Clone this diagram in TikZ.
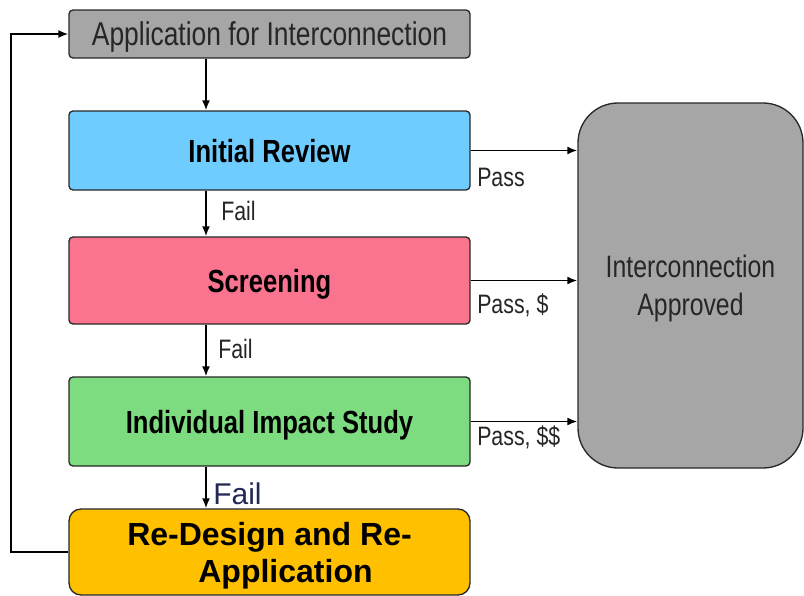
\documentclass[tikz,border=0pt]{standalone}
\usepackage{fontspec}
\setmainfont{Liberation Sans}
\newfontfamily\nar[FakeStretch=0.8]{Liberation Sans}
\usetikzlibrary{arrows.meta}
\definecolor{boxgray}{RGB}{166,166,166}
\definecolor{txtgray}{RGB}{38,38,38}
\definecolor{revblue}{RGB}{110,204,255}
\definecolor{scrpink}{RGB}{250,115,143}
\definecolor{impgreen}{RGB}{125,220,128}
\definecolor{redoamber}{RGB}{255,192,0}
\definecolor{failnavy}{RGB}{35,40,85}
\definecolor{edge}{RGB}{40,40,40}
\begin{document}
\begin{tikzpicture}[x=0.75pt,y=-0.75pt,
  stage/.style={draw=edge,line width=1pt,rounded corners=3pt,inner sep=0pt,
    minimum width=300.75pt,align=center,text depth=0pt},
  title/.style={font=\nar\bfseries\fontsize{24}{28}\selectfont},
  arr/.style={line width=1.3pt,-{Latex[length=7.5pt,width=6pt]}},
  lbl/.style={font=\nar\fontsize{20}{24}\selectfont,inner sep=0pt,anchor=base west,text=txtgray}]
\useasboundingbox (0,0) rectangle (804,596);

% process stages
\node[stage,fill=boxgray,minimum height=36pt,text=txtgray,
  font=\nar\fontsize{24.75}{29}\selectfont] (app) at (269.5,34) {Application for Interconnection};
\node[stage,fill=revblue,minimum height=59.25pt,title] (init) at (269.5,150.5) {Initial Review};
\node[stage,fill=scrpink,minimum height=65.25pt,title] (scr) at (269.5,280.5) {Screening};
\node[stage,fill=impgreen,minimum height=66.75pt,title] (iis) at (269.5,421.5) {Individual Impact Study};
\node[stage,fill=redoamber,minimum height=64.5pt,rounded corners=9pt,
  font=\bfseries\fontsize{24}{27.75}\selectfont] (redo) at (269.5,552)
  {Re-Design and Re-\\\hspace*{24pt}Application};

% outcome
\node[draw=edge,line width=1pt,fill=boxgray,rounded corners=30pt,inner sep=0pt,
  minimum width=168.75pt,minimum height=273.75pt,align=center,text=txtgray,text depth=0pt,
  font=\nar\fontsize{23.25}{28.5}\selectfont] (ok) at (690.5,285.5)
  {Interconnection\\Approved};

% column of the downward flow
\coordinate (col) at (206,0);

\draw[arr] (app.south -| col) -- (init.north -| col);
\draw[arr] (init.south -| col) -- (scr.north -| col);
\draw[arr] (scr.south -| col) -- (iis.north -| col);
\draw[arr] (iis.south -| col) -- (redo.north -| col);

\draw[arr] (init.east) -- (init.east -| ok.west);
\draw[arr] (scr.east) -- (scr.east -| ok.west);
\draw[arr] (iis.east) -- (iis.east -| ok.west);

% loop back to a new application
\draw[arr] (redo.west) -- ++(-57,0) |- (app.west);

% outcome labels
\node[lbl] (f1) at (221,220) {Fail};
\node[lbl] (f2) at (218,358) {Fail};
\node[lbl,font=\fontsize{22.5}{26}\selectfont,text=failnavy] (f3) at (213,504) {Fail};
\node[lbl] (p1) at (477,186) {Pass};
\node[lbl] (p2) at (477,313) {Pass, \$};
\node[lbl] (p3) at (477,445) {Pass, \$\$};
\end{tikzpicture}
\end{document}
